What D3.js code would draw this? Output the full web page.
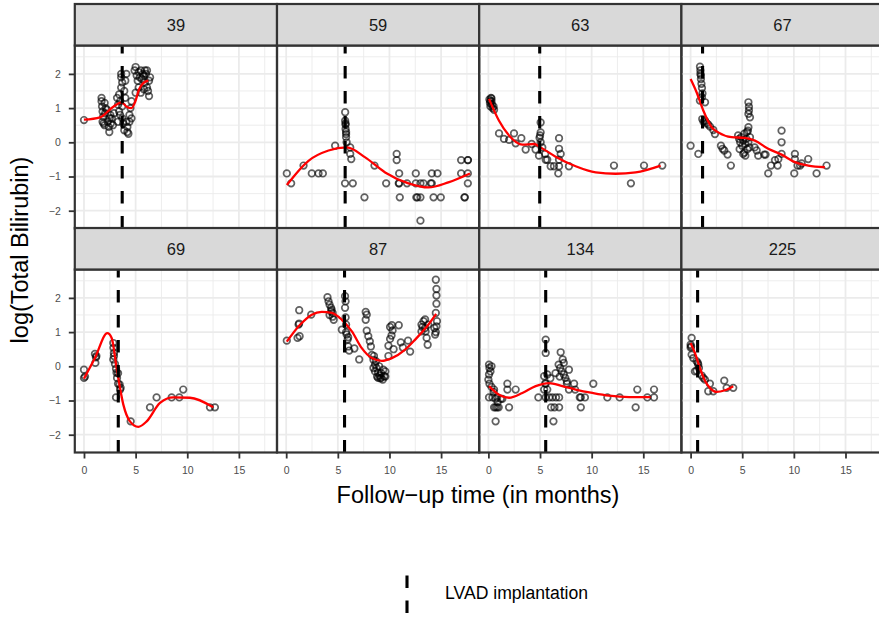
<!DOCTYPE html>
<html>
<head>
<meta charset="utf-8">
<script src="https://cdn.jsdelivr.net/npm/d3@7"></script>
<style>
  body { margin: 0; background: #ffffff; }
  text { font-family: "Liberation Sans", Arial, Helvetica, sans-serif; }
</style>
</head>
<body>
<svg id="chart" width="879" height="617"></svg>
<script>
// ---- data: one facet per patient id ----
const patients = ["39", "59", "63", "67", "69", "87", "134", "225"];
// month of LVAD implantation for each patient
const lvadMonths = [3.7, 5.71, 4.97, 1.16, 3.32, 5.65, 5.55, 0.68];

// observed log(total bilirubin) by follow-up month: [month, value]
const obs39 = [[0,0.65],
  [1.7,1.3],[1.7,1.2],[1.75,1.05],[1.8,0.9],[1.85,0.75],[1.9,0.55],[2.0,0.5],[2.05,0.85],[2.1,1.0],[2.2,0.95],[2.3,0.6],[2.4,0.45],[2.45,0.3],[2.5,0.7],[2.6,0.55],[2.7,0.7],[2.8,0.5],[2.9,0.85],[2.55,0.8],[2.0,1.15],[1.8,0.6],
  [3.2,1.3],[3.3,1.1],[3.3,0.6],[3.4,0.9],[3.4,1.4],[3.5,1.2],[3.5,0.8],[3.6,2.0],[3.6,1.9],[3.6,1.6],[3.7,1.05],[3.7,0.7],[3.8,0.55],[3.9,1.5],[3.9,0.35],[4.0,1.8],[4.0,1.3],[4.1,0.6],[4.2,0.45],[4.2,0.3],[4.3,0.25],[4.4,0.6],[4.4,0.8],[4.5,1.0],[4.6,0.7],[4.6,1.2],[4.1,2.0],[3.7,1.75],
  [4.9,2.1],[5.0,2.2],[5.1,1.95],[5.2,1.8],[5.3,2.05],[5.4,1.9],[5.5,2.1],[5.6,1.85],[5.7,2.0],[5.8,1.95],[5.9,1.75],[6.0,2.0],[6.1,1.6],[6.2,1.5],[6.3,1.35],[5.3,1.6],[5.5,1.45],[5.0,1.45],[5.8,1.55],[6.4,1.9],[6.3,1.8],[6.1,2.1],[5.9,2.1]];
const obs59 = [[0.06,-0.91],[0.48,-1.2],[1.68,-0.68],[2.48,-0.91],[3.13,-0.91],[3.55,-0.91],[4.74,-0.1],
  [5.71,0.88],[5.71,0.63],[5.75,0.51],[5.75,0.39],[5.8,0.24],[5.8,0.15],[5.85,0.0],[5.75,0.55],[5.8,0.3],
  [6.2,-0.15],[6.2,-0.34],[6.3,-0.49],[5.7,-1.2],[6.45,-1.2],[7.58,-1.61],[8.55,-0.68],[9.68,-1.2],
  [10.7,-0.34],[10.7,-0.52],[10.94,-0.91],[10.94,-1.2],[10.9,-1.2],[11.0,-1.61],[11.7,-1.2],[12.55,-0.91],[12.55,-1.2],[12.6,-1.61],[12.7,-1.61],[13.0,-1.2],[13.0,-1.61],[13.0,-2.29],[13.3,-1.2],[14.1,-0.91],[14.1,-1.2],[14.0,-1.2],[14.65,-0.91],[14.27,-1.61],[14.97,-1.61],
  [16.94,-0.52],[16.94,-0.91],[17.59,-0.52],[17.59,-0.91],[17.59,-1.2],[17.6,-0.52],[17.26,-1.61],[17.3,-1.61]];
const obs63 = [[0.1,1.25],[0.15,1.15],[0.2,1.05],[0.25,1.3],[0.3,1.2],[0.35,1.1],[0.4,1.0],[0.5,1.05],[0.55,0.95],[0.2,1.2],[0.3,1.28],
  [1.03,0.26],[1.51,0.1],[2.0,0.07],[2.48,0.26],[2.64,-0.03],[3.19,0.12],[3.61,-0.21],[4.19,-0.05],[4.57,-0.21],[4.9,-0.39],
  [5.06,0.58],[5.06,0.29],[5.0,0.2],[4.95,0.13],[5.06,0.0],[5.22,-0.15],[5.5,-0.34],[5.55,-0.51],[5.7,-0.51],[6.03,-0.7],[6.35,-0.7],
  [6.84,0.12],[6.84,-0.19],[7.0,-0.34],[6.84,-0.51],[6.84,-0.7],[6.77,-0.91],[7.8,-0.7],[12.16,-0.68],[13.8,-1.2],[15.07,-0.68],[16.84,-0.68]];
const obs67 = [[0,-0.1],[0.75,-0.34],[0.91,2.21],[0.95,2.0],[1.0,1.85],[1.05,1.71],[1.1,1.59],[1.15,1.43],[1.1,1.32],[0.9,1.22],[1.4,1.17],[0.95,2.1],[1.0,1.95],
  [1.13,0.68],[1.4,0.63],[1.55,0.56],[1.7,0.52],[1.88,0.46],[1.25,0.6],[2.2,0.36],[2.36,0.24],
  [2.94,-0.1],[3.1,-0.19],[3.26,-0.24],[3.58,-0.36],[3.9,-0.68],
  [4.6,0.2],[4.7,0.1],[4.8,0.0],[4.9,0.15],[5.0,-0.1],[5.1,0.05],[5.2,0.25],[5.3,-0.05],[5.4,0.1],[5.5,-0.2],[5.6,0.0],[5.7,-0.15],[5.75,0.15],[4.75,-0.2],[5.45,0.3],[5.2,-0.3],
  [5.6,1.17],[5.65,1.04],[5.65,0.93],[5.6,0.83],[5.75,0.73],[5.6,0.44],[5.55,0.34],
  [5.1,-0.34],[5.3,-0.39],[6.2,-0.15],[6.4,-0.24],[6.55,-0.39],[7.13,-0.36],[7.26,-0.36],[7.52,-0.91],[7.78,-0.68],[8.17,-0.52],[8.43,-0.68],[8.5,-0.49],
  [8.81,0.34],[8.81,0.0],[8.81,-0.34],[10.04,-0.91],[10.1,-0.34],[10.1,-0.49],[10.36,-0.68],[10.6,-0.68],[10.75,-0.62],[11.39,-0.49],[12.2,-0.91],[13.17,-0.68]];
const obs69 = [[0,-0.1],[0,-0.34],[0.1,-0.3],[1.06,0.36],[1.16,0.26],[1.1,0.1],[1.2,0.3],
  [2.84,0.68],[2.85,0.54],[2.9,0.39],[2.84,0.2],[3.0,0.07],[3.1,-0.07],[3.15,-0.19],[3.2,-0.34],[3.3,-0.51],[3.45,-0.53],[3.5,-0.68],[3.55,-0.63],[3.1,-0.91],[2.9,0.3],[3.3,-0.2],
  [4.52,-1.61],[6.39,-1.2],[7.03,-0.91],[8.49,-0.91],[9.23,-0.91],[9.61,-0.68],[12.2,-1.2],[12.68,-1.2]];
const obs87 = [[0.06,0.75],[1.26,1.64],[1.2,1.22],[1.1,0.83],[1.3,0.88],[1.25,1.25],[2.42,1.51],
  [4.0,2.02],[4.2,1.8],[4.35,1.71],[4.5,1.56],[4.6,1.36],[4.1,1.9],[4.35,1.6],[4.2,1.5],[4.4,1.65],[4.5,1.45],[5.39,1.07],
  [5.7,2.05],[5.75,1.9],[5.7,1.71],[5.75,1.43],[5.8,1.22],[5.85,0.93],[5.95,0.78],[6.0,0.58],[6.1,0.46],[6.6,0.52],[5.8,1.0],[6.0,0.85],[7.07,0.2],
  [7.7,1.59],[7.8,1.51],[7.7,1.36],[7.8,1.04],[7.95,0.88],[8.1,0.73],[8.2,0.58],
  [8.3,0.33],[8.45,0.19],[8.6,0.05],[8.75,-0.05],[8.9,-0.19],[9.05,-0.27],[9.2,-0.34],[9.35,-0.39],[9.5,-0.29],[9.6,-0.15],[8.6,-0.15],[8.45,-0.05],[8.9,-0.34],[9.2,-0.2],[8.5,0.3],[8.7,0.15],[9.0,0.0],[9.4,-0.1],[9.6,-0.3],[8.8,-0.3],[9.1,-0.35],
  [9.9,0.6],[10.06,0.8],[10.06,1.15],[10.23,1.2],[10.3,1.05],[10.9,1.2],[9.9,0.3],[10.4,0.5],[10.2,0.9],
  [11.1,0.7],[11.3,0.55],[11.8,0.75],[12.0,0.43],
  [13.1,1.22],[13.3,1.32],[13.45,1.12],[13.5,1.02],[13.6,0.83],[13.7,0.63],[13.1,1.02],[13.75,1.22],[13.45,1.37],[13.2,1.15],
  [14.49,2.53],[14.55,2.26],[14.55,2.07],[14.55,1.83],[14.49,1.56],[14.6,1.32],[14.55,1.17],[14.49,1.0],[14.42,0.93],[14.35,1.12]];
const obs134 = [[0.06,0.05],[0.1,-0.05],[0.2,-0.15],[0.06,-0.24],[0.0,-0.39],[0.1,-0.51],[0.3,0.0],
  [0.06,-0.91],[0.4,-0.91],[0.55,-0.68],[0.7,-0.95],[0.85,-0.91],[0.55,-1.2],[0.85,-1.2],[1.0,-1.2],[0.7,-1.61],[1.2,-0.95],[1.35,-0.95],[0.3,-0.6],[0.5,-0.75],[0.9,-1.05],[0.7,-1.2],
  [1.84,-0.51],[1.84,-0.68],[2.0,-1.2],[2.64,-0.68],[4.84,-0.91],[5.55,0.78],[5.55,0.39],
  [5.4,-0.29],[5.7,-0.24],[5.55,-0.51],[5.7,-0.68],[5.4,-0.68],[5.55,-0.91],[5.9,-0.91],[6.2,-0.91],[6.55,-0.91],[6.85,-0.91],[6.07,-1.2],[6.4,-1.2],[6.85,-1.2],[6.3,-1.61],[5.5,-0.5],[6.0,-0.35],[6.5,-0.2],
  [7.0,0.41],[6.8,0.05],[6.95,-0.05],[7.1,-0.15],[7.3,-0.24],[7.45,-0.34],[7.6,-0.44],[7.8,-0.1],[7.3,0.1],[6.9,-0.3],[7.2,0.2],
  [7.6,-0.51],[7.8,-0.68],[8.3,-0.51],[8.4,-0.68],[8.85,-0.91],[8.95,-0.91],[8.95,-1.2],
  [9.35,-0.91],[10.16,-0.51],[11.52,-0.91],[12.71,-0.91],[14.26,-1.2],[14.42,-0.68],[15.39,-0.91],[16.04,-0.68],[16.04,-0.91]];
const obs225 = [[0.1,0.83],[0.0,0.63],[0.05,0.58],[0.0,0.55],[0.1,0.34],[0.26,0.24],[0.58,0.15],[0.7,0.1],[0.74,0.05],[0.81,-0.05],[0.42,-0.15],[0.58,-0.13],
  [1.07,-0.27],[1.23,-0.34],[1.39,-0.39],[1.87,-0.51],[1.71,-0.73],[2.2,-0.73],[3.26,-0.42],[3.49,-0.63],[4.13,-0.63]];

// smoothed trajectory per patient: [month, fitted value]
const fit39 = [[0,0.66],[1.55,0.73],[2.84,1.04],[3.65,1.17],[4.13,1.04],[4.6,1.0],[4.94,1.17],[5.35,1.56],[5.74,1.73],[6.23,1.8]];
const fit59 = [[0.06,-1.25],[2.16,-0.54],[4.1,-0.24],[5.87,-0.15],[7.65,-0.44],[9.58,-0.88],[11.84,-1.2],[13.78,-1.32],[15.7,-1.17],[17.8,-0.91]];
const fit63 = [[0.06,1.27],[1.03,0.63],[2.0,0.2],[3.29,-0.07],[4.42,-0.05],[5.06,-0.15],[6.51,-0.42],[8.45,-0.7],[10.39,-0.88],[12.32,-0.92],[14.26,-0.88],[16.68,-0.68]];
const fit67 = [[0,1.85],[0.6,1.45],[1.23,0.93],[2.04,0.44],[2.68,0.29],[3.97,0.15],[5.26,0.13],[6.23,0.05],[7.52,-0.19],[8.81,-0.36],[10.1,-0.58],[11.39,-0.68],[13.0,-0.73]];
const fit69 = [[0,-0.36],[1.06,0.24],[2.26,0.97],[2.68,0.83],[3.16,-0.05],[3.81,-1.12],[4.45,-1.61],[5.26,-1.77],[6.07,-1.61],[7.36,-1.07],[8.65,-0.91],[10.26,-0.92],[12.52,-1.2]];
const fit87 = [[0.06,0.72],[1.36,1.22],[2.48,1.51],[3.45,1.59],[4.42,1.56],[5.39,1.36],[6.36,1.02],[7.32,0.53],[8.29,0.24],[9.26,0.16],[10.23,0.24],[11.52,0.49],[12.49,0.78],[13.78,1.22],[14.52,1.53]];
const fit134 = [[0.06,-0.58],[1.03,-0.83],[2.0,-0.92],[3.29,-0.78],[4.58,-0.58],[5.87,-0.49],[7.16,-0.58],[8.45,-0.68],[10.07,-0.78],[11.68,-0.86],[13.62,-0.9],[15.71,-0.9]];
const fit225 = [[0.0,0.68],[0.42,0.39],[0.9,-0.05],[1.39,-0.42],[1.87,-0.63],[2.52,-0.75],[3.33,-0.7],[4.13,-0.58]];

const observations = [obs39, obs59, obs63, obs67, obs69, obs87, obs134, obs225];
const fits = [fit39, fit59, fit63, fit67, fit69, fit87, fit134, fit225];

const xTicks = [0, 5, 10, 15];
const xMinor = [2.5, 7.5, 12.5, 17.5];
const yTicks = [-2, -1, 0, 1, 2];
const yMinor = [-1.5, -0.5, 0.5, 1.5, 2.5];
const xDomain = [-0.89, 18.69];
const yDomain = [-2.52, 2.83];

const xTitle = "Follow\u2212up time (in months)";
const yTitle = "log(Total Bilirubin)";
const legendLabel = "LVAD implantation";

// ---- layout ----
const svg = d3.select("#chart");
const nCol = 4;
const left = 74.8, pitchX = 202.2, panelW = 202.2;
const rowTops = [4, 228];
const stripH = 41.5, panelH = 183;
const borderCol = "#333333";
const intFmt = d3.format("d");

const x = d3.scaleLinear().domain(xDomain).range([0, panelW]);
const y = d3.scaleLinear().domain(yDomain).range([panelH, 0]);

svg.append("rect").attr("width", 879).attr("height", 617).attr("fill", "#ffffff");

svg.append("defs").append("clipPath").attr("id", "panel-clip")
  .append("rect").attr("x", 0).attr("y", 0).attr("width", panelW).attr("height", panelH);

const line = d3.line().x(d => x(d[0])).y(d => y(d[1])).curve(d3.curveMonotoneX);

patients.forEach((pid, i) => {
  const col = i % nCol, row = Math.floor(i / nCol);
  const px = left + col * pitchX;
  const py = rowTops[row] + stripH;
  const g = svg.append("g").attr("transform", `translate(${px},${py})`);

  // background grid
  const grid = g.append("g");
  grid.selectAll(".vmin").data(xMinor).join("line")
    .attr("x1", d => x(d)).attr("x2", d => x(d)).attr("y1", 0).attr("y2", panelH)
    .attr("stroke", "#EBEBEB").attr("stroke-width", 0.9);
  grid.selectAll(".hmin").data(yMinor).join("line")
    .attr("y1", d => y(d)).attr("y2", d => y(d)).attr("x1", 0).attr("x2", panelW)
    .attr("stroke", "#EBEBEB").attr("stroke-width", 0.9);
  grid.selectAll(".vmaj").data(xTicks).join("line")
    .attr("x1", d => x(d)).attr("x2", d => x(d)).attr("y1", 0).attr("y2", panelH)
    .attr("stroke", "#EBEBEB").attr("stroke-width", 1.8);
  grid.selectAll(".hmaj").data(yTicks).join("line")
    .attr("y1", d => y(d)).attr("y2", d => y(d)).attr("x1", 0).attr("x2", panelW)
    .attr("stroke", "#EBEBEB").attr("stroke-width", 1.8);

  const content = g.append("g").attr("clip-path", "url(#panel-clip)");

  // observations
  content.selectAll("circle").data(observations[i]).join("circle")
    .attr("cx", d => x(d[0])).attr("cy", d => y(d[1])).attr("r", 3.3)
    .attr("fill", "none").attr("stroke", "#000000").attr("stroke-opacity", 0.62)
    .attr("stroke-width", 1.7);

  // smoothed trend
  content.append("path").datum(fits[i]).attr("d", line)
    .attr("fill", "none").attr("stroke", "#FF0000").attr("stroke-width", 2.3);

  // implantation time
  content.append("line")
    .attr("x1", x(lvadMonths[i])).attr("x2", x(lvadMonths[i]))
    .attr("y1", panelH).attr("y2", 0)
    .attr("stroke", "#000000").attr("stroke-width", 3.1).attr("stroke-dasharray", "12.5,12.5");

  // panel border
  g.append("rect").attr("x", 0).attr("y", 0).attr("width", panelW).attr("height", panelH)
    .attr("fill", "none").attr("stroke", borderCol).attr("stroke-width", 2.2);

  // strip
  g.append("rect").attr("x", 0).attr("y", -stripH).attr("width", panelW).attr("height", stripH)
    .attr("fill", "#D9D9D9").attr("stroke", borderCol).attr("stroke-width", 2.2);
  g.append("text").attr("x", panelW / 2).attr("y", -stripH / 2)
    .attr("text-anchor", "middle").attr("dominant-baseline", "central")
    .attr("font-size", "16.5px").attr("fill", "#1A1A1A").text(pid);

  // axes on the outer panels
  if (col === 0) {
    const ay = g.append("g").call(d3.axisLeft(y).tickValues(yTicks).tickFormat(intFmt).tickSize(6).tickPadding(8));
    ay.select(".domain").remove();
    ay.selectAll(".tick line").attr("stroke", borderCol).attr("stroke-width", 1.8);
    ay.selectAll(".tick text").attr("fill", "#4D4D4D").attr("font-size", "10.5px")
      .attr("font-family", "Liberation Sans, Arial, sans-serif");
  }
  if (row === 1) {
    const ax = g.append("g").attr("transform", `translate(0,${panelH})`)
      .call(d3.axisBottom(x).tickValues(xTicks).tickFormat(intFmt).tickSize(6).tickPadding(8));
    ax.select(".domain").remove();
    ax.selectAll(".tick line").attr("stroke", borderCol).attr("stroke-width", 1.8);
    ax.selectAll(".tick text").attr("fill", "#4D4D4D").attr("font-size", "10.5px")
      .attr("font-family", "Liberation Sans, Arial, sans-serif");
  }
});

// axis titles
svg.append("text").attr("x", 478).attr("y", 503).attr("text-anchor", "middle")
  .attr("font-size", "23.5px").attr("fill", "#000000").text(xTitle);
svg.append("text").attr("transform", "translate(28.4,250) rotate(-90)")
  .attr("text-anchor", "middle").attr("font-size", "23.5px").attr("fill", "#000000").text(yTitle);

// legend
const lg = svg.append("g");
lg.append("line").attr("x1", 407).attr("x2", 407).attr("y1", 613).attr("y2", 575.5)
  .attr("stroke", "#000000").attr("stroke-width", 3.1).attr("stroke-dasharray", "12.5,12.5");
lg.append("text").attr("x", 445).attr("y", 599)
  .attr("font-size", "17.6px").attr("fill", "#000000").text(legendLabel);
</script>
</body>
</html>
